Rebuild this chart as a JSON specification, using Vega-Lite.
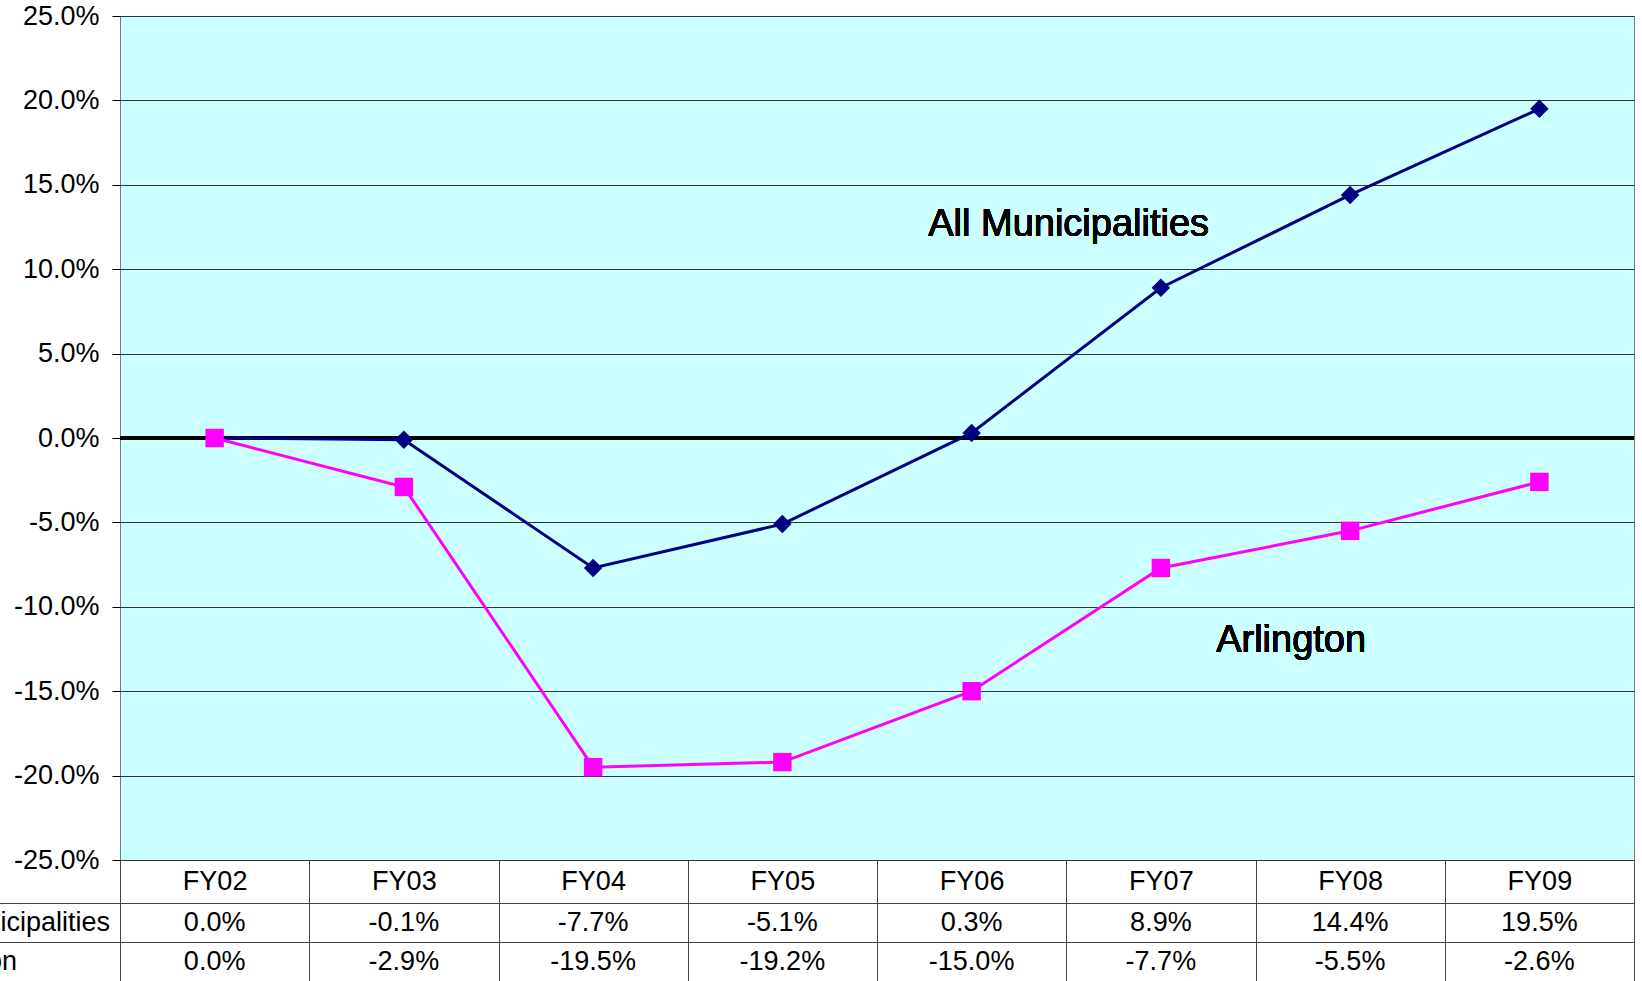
{
  "$schema": "https://vega.github.io/schema/vega-lite/v6.json",
  "background": "white",
  "padding": {"left": -91, "top": 1, "right": 9, "bottom": 0},
  "spacing": 43,
  "bounds": "flush",
  "config": {
    "locale": {"number": {"decimal": ".", "thousands": ",", "grouping": [3], "currency": ["$", ""], "minus": "-"}},
    "font": "Liberation Sans",
    "axis": {"labelFont": "Liberation Sans", "labelColor": "#000", "labelFontSize": 27, "labelLimit": 400},
    "text": {"font": "Liberation Sans"}
  },
  "datasets": {
    "growth": [
      {"FY": "FY02", "series": "All Municipalities", "value": 0.0},
      {"FY": "FY03", "series": "All Municipalities", "value": -0.001},
      {"FY": "FY04", "series": "All Municipalities", "value": -0.077},
      {"FY": "FY05", "series": "All Municipalities", "value": -0.051},
      {"FY": "FY06", "series": "All Municipalities", "value": 0.003},
      {"FY": "FY07", "series": "All Municipalities", "value": 0.089},
      {"FY": "FY08", "series": "All Municipalities", "value": 0.144},
      {"FY": "FY09", "series": "All Municipalities", "value": 0.195},
      {"FY": "FY02", "series": "Arlington", "value": 0.0},
      {"FY": "FY03", "series": "Arlington", "value": -0.029},
      {"FY": "FY04", "series": "Arlington", "value": -0.195},
      {"FY": "FY05", "series": "Arlington", "value": -0.192},
      {"FY": "FY06", "series": "Arlington", "value": -0.150},
      {"FY": "FY07", "series": "Arlington", "value": -0.077},
      {"FY": "FY08", "series": "Arlington", "value": -0.055},
      {"FY": "FY09", "series": "Arlington", "value": -0.026}
    ]
  },
  "vconcat": [
    {
      "width": 1514,
      "height": 844,
      "view": {"fill": "#ccffff", "stroke": "#777", "strokeWidth": 1},
      "data": {"name": "growth"},
      "layer": [
        {
          "mark": {"type": "rule", "color": "#000", "strokeWidth": 3},
          "encoding": {"y": {"datum": 0, "type": "quantitative"}}
        },
        {
          "mark": {"type": "line", "strokeWidth": 3},
          "encoding": {
            "x": {
              "field": "FY", "type": "nominal", "title": null,
              "scale": {"type": "band", "paddingInner": 0, "paddingOuter": 0},
              "axis": {"orient": "bottom", "domain": false, "ticks": true, "tickBand": "extent", "tickSize": 43, "tickColor": "#444", "tickWidth": 1, "labelPadding": -22, "labelBaseline": "middle", "labelAngle": 0, "labelFontSize": 27, "grid": false, "labelOverlap": false}
            },
            "y": {
              "field": "value", "type": "quantitative", "title": null,
              "scale": {"domain": [-0.25, 0.25], "nice": false, "zero": false},
              "axis": {"values": [-0.25, -0.2, -0.15, -0.1, -0.05, 0, 0.05, 0.1, 0.15, 0.2, 0.25], "format": ".1%", "grid": true, "gridColor": "#333", "gridWidth": 1, "tickSize": 8, "tickColor": "#000", "labelPadding": 13, "domain": false, "labelFontSize": 27}
            },
            "color": {"field": "series", "type": "nominal", "scale": {"domain": ["All Municipalities", "Arlington"], "range": ["#000080", "#ff00ff"]}, "legend": null}
          }
        },
        {
          "mark": {"type": "point", "filled": true, "size": 340, "opacity": 1},
          "encoding": {
            "x": {"field": "FY", "type": "nominal"},
            "y": {"field": "value", "type": "quantitative"},
            "color": {"field": "series", "type": "nominal", "legend": null},
            "shape": {"field": "series", "type": "nominal", "scale": {"domain": ["All Municipalities", "Arlington"], "range": ["diamond", "square"]}, "legend": null}
          }
        },
        {
          "mark": {"type": "text", "text": "All Municipalities", "fontSize": 38, "fill": "#000", "strokeWidth": 0, "dx": 97, "baseline": "middle"},
          "encoding": {
            "x": {"datum": "FY06", "type": "nominal"},
            "y": {"datum": 0.126, "type": "quantitative"}
          }
        },
        {
          "mark": {"type": "text", "text": "Arlington", "fontSize": 38, "fill": "#000", "strokeWidth": 0, "dx": -59, "baseline": "middle"},
          "encoding": {
            "x": {"datum": "FY08", "type": "nominal"},
            "y": {"datum": -0.12, "type": "quantitative"}
          }
        }
      ]
    },
    {
      "width": 1514,
      "height": 78,
      "view": {"stroke": "#444", "strokeWidth": 1},
      "data": {"name": "growth"},
      "mark": {"type": "text", "fontSize": 27, "fill": "#000"},
      "encoding": {
        "x": {
          "field": "FY", "type": "nominal", "title": null,
          "scale": {"type": "band", "paddingInner": 0, "paddingOuter": 0},
          "axis": {"orient": "bottom", "labels": false, "ticks": false, "domain": false, "grid": true, "tickBand": "extent", "gridColor": "#444", "gridWidth": 1}
        },
        "y": {
          "field": "series", "type": "nominal", "title": null,
          "scale": {"type": "band", "paddingInner": 0, "paddingOuter": 0, "domain": ["All Municipalities", "Arlington"]},
          "axis": {"tickBand": "extent", "tickSize": 210, "tickColor": "#444", "tickWidth": 1, "labelPadding": 0, "labelAlign": "left", "labelBaseline": "middle", "labelLimit": 400, "grid": true, "gridColor": "#444", "gridWidth": 1, "domain": false, "labelFontSize": 27}
        },
        "text": {"field": "value", "type": "quantitative", "format": ".1%"}
      }
    }
  ]
}
